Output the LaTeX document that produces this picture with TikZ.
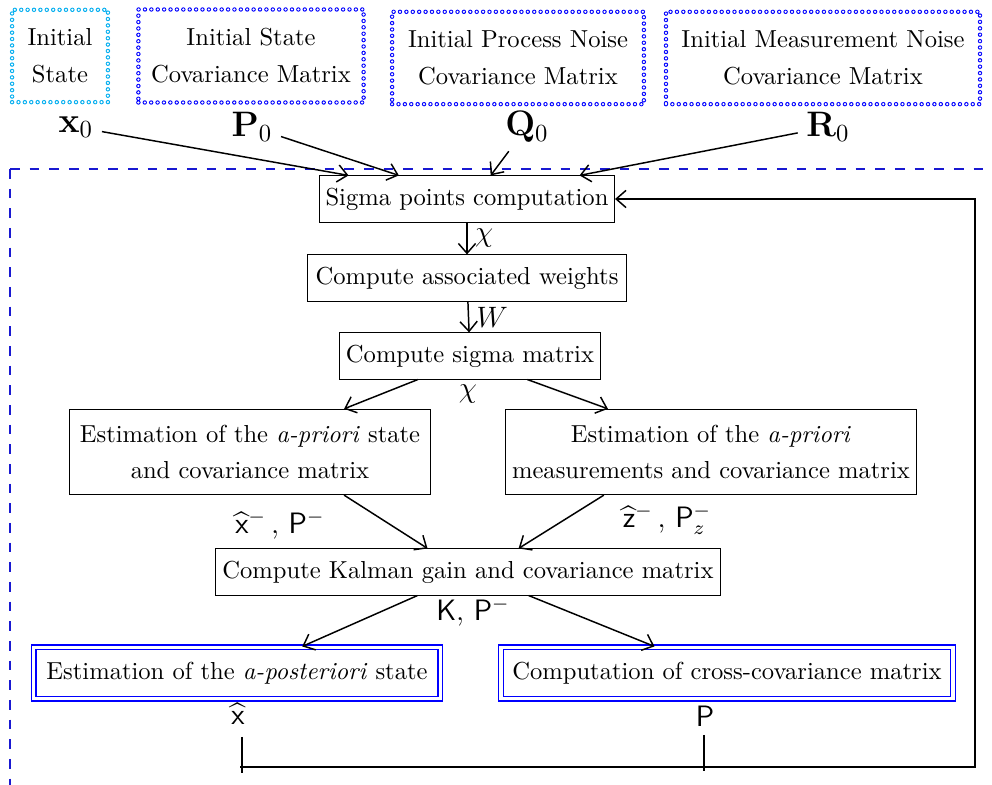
\documentclass[tikz,border=0pt]{standalone}
\usepackage{amsmath}
\usetikzlibrary{arrows.meta,positioning,calc}

\begin{document}
\begin{tikzpicture}[
  x=0.0143cm, y=-0.0143cm,
  font={\fontsize{10}{15}\selectfont},
  box/.style={draw, align=center, inner sep=2pt, minimum height=0.66cm},
  dbox/.style={draw=blue, line width=0.55pt, double=white, double distance=1.3pt, align=center, minimum height=0.74cm},
  init/.style={draw=blue, line width=0.4pt, line cap=round, dash pattern=on 0pt off 2.6pt, double=white, double distance=1pt, align=center, inner sep=0pt},
  var/.style={font=\Large},
  sig/.style={font=\large},
  arr/.style={-{Straight Barb[length=4pt,width=7pt]}, semithick},
  frame/.style={draw=blue!80!black!90, dash pattern=on 4pt off 4pt, semithick}
]
  \useasboundingbox (0,0) rectangle (992,785);

  % initial values
  \node[init, draw=cyan, minimum width=1.37cm, minimum height=1.32cm] (is) at (60,56) {Initial\\State};
  \node[init, minimum width=3.22cm, minimum height=1.33cm] (ic) at (251,56) {Initial State\\Covariance Matrix};
  \node[init, minimum width=3.60cm, minimum height=1.32cm] (iq) at (518,58) {Initial Process Noise\\Covariance Matrix};
  \node[init, minimum width=4.49cm, minimum height=1.32cm] (ir) at (823,58) {Initial Measurement Noise\\Covariance Matrix};

  \node[var] (x0) at (76,127) {$\mathbf{x}_0$};
  \node[var] (p0) at (252,127) {$\mathbf{P}_0$};
  \node[var] (q0) at (527,127) {$\mathbf{Q}_0$};
  \node[var] (r0) at (828,127) {$\mathbf{R}_0$};

  % filter loop
  \draw[frame] (10,169) -- (992,169);
  \draw[frame] (10,169) -- (10,790);

  \node[box, minimum width=4.22cm] (sig) at (467,199) {Sigma points computation};
  \node[box, minimum width=4.55cm] (wgt) at (467,278) {Compute associated weights};
  \node[box, minimum width=3.72cm] (sm) at (470,356) {Compute sigma matrix};
  \node[box, minimum width=5.16cm, minimum height=1.22cm] (se) at (250,452) {Estimation of the \emph{a-priori} state\\and covariance matrix};
  \node[box, minimum width=5.88cm, minimum height=1.22cm] (me) at (711,452) {Estimation of the \emph{a-priori}\\measurements and covariance matrix};
  \node[box, minimum width=7.22cm] (kg) at (468,572) {Compute Kalman gain and covariance matrix};
  \node[dbox, minimum width=5.81cm] (post) at (237,673) {Estimation of the \emph{a-posteriori} state};
  \node[dbox, minimum width=6.46cm] (cc) at (727,673) {Computation of cross-covariance matrix};

  \node[sig] (chi) at (468,394) {$\chi$};
  \node[sig] (xzp) at (280,525) {$\widehat{\mathsf{x}}^{-}$\,,\ $\mathsf{P}^{-}$};
  \node[sig] (zp) at (667,520) {$\widehat{\mathsf{z}}^{-}$\,,\ $\mathsf{P}_{z}^{-}$};
  \node[sig] (kp) at (473,612) {$\mathsf{K}$,\ $\mathsf{P}^{-}$};
  \node[sig] (xh) at (238,714) {$\widehat{\mathsf{x}}$};
  \node[sig] (pp) at (705,716) {$\mathsf{P}$};

  \coordinate (xht) at (242,737);
  \coordinate (xhb) at (242,773);
  \coordinate (ppt) at (704,735);
  \coordinate (ppb) at (704,771);
  \coordinate (fbl) at (240,767);
  \coordinate (fbr) at (975,767);

  \draw[arr] (x0) -- ($(sig.north west)!0.10!(sig.north east)$);
  \draw[arr] (p0) -- ($(sig.north west)!0.27!(sig.north east)$);
  \draw[arr] (q0) -- ($(sig.north west)!0.58!(sig.north east)$);
  \draw[arr] (r0) -- ($(sig.north west)!0.88!(sig.north east)$);

  \draw[arr] (sig) -- node[right, inner sep=3pt, font=\large]{$\chi$} (wgt);
  \draw[arr] (wgt) -- node[right, inner sep=3pt, font=\large]{$W$} (sm);
  \draw[arr] ($(sm.south west)!0.30!(sm.south east)$) -- ($(se.north west)!0.76!(se.north east)$);
  \draw[arr] ($(sm.south west)!0.72!(sm.south east)$) -- ($(me.north west)!0.25!(me.north east)$);
  \draw[arr] ($(se.south west)!0.76!(se.south east)$) -- ($(kg.north west)!0.42!(kg.north east)$);
  \draw[arr] ($(me.south west)!0.24!(me.south east)$) -- ($(kg.north west)!0.60!(kg.north east)$);
  \draw[arr] ($(kg.south west)!0.40!(kg.south east)$) -- ($(post.north west)!0.66!(post.north east)$);
  \draw[arr] ($(kg.south west)!0.62!(kg.south east)$) -- ($(cc.north west)!0.34!(cc.north east)$);

  % feedback to the sigma points
  \draw[semithick] (xht) -- (xhb);
  \draw[semithick] (ppt) -- (ppb);
  \draw[arr] (fbl) -- (fbr) |- (sig.east);
\end{tikzpicture}
\end{document}
